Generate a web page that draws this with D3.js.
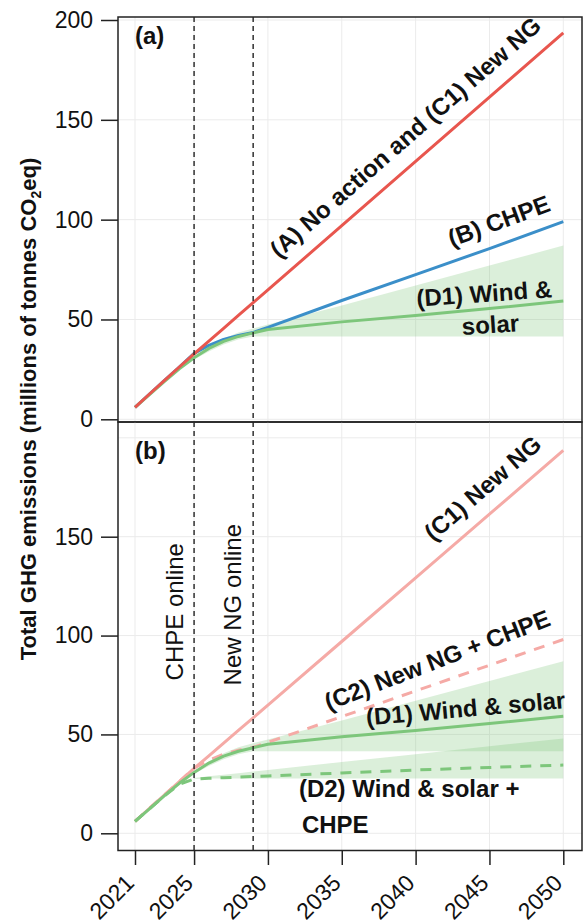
<!DOCTYPE html>
<html>
<head>
<meta charset="utf-8">
<script src="https://cdn.jsdelivr.net/npm/d3@7"></script>
<style>
  html, body { margin: 0; padding: 0; background: #fff; }
  svg { display: block; }
  text { font-family: "Liberation Sans", Arial, Helvetica, sans-serif; fill: #111; }
</style>
</head>
<body>
<svg id="chart" width="584" height="921"></svg>
<script>
// ---------------- data ----------------
const years = [2021, 2022, 2023, 2024, 2025, 2026, 2027, 2028, 2029, 2030, 2035, 2040, 2045, 2050];
const noActionNewNG = [6, 12.8, 19.5, 26.2, 32.8, 39.2, 45.6, 52, 58.4, 64.8, 97, 129.2, 161.4, 193.6];
const chpe = [6, 12.8, 19.5, 26.2, 33, 37, 40, 42, 43.5, 46, 59.5, 72.5, 85.5, 99];
const windSolar = [6, 12.5, 19, 25.3, 30.8, 35.5, 39, 41.5, 43.3, 45, 48.8, 52, 55.5, 59.2];
const newNGchpe = [6, 12.8, 19.5, 26.2, 33, 37, 40, 42, 43.5, 46, 59, 72, 85, 98];
const windSolarChpe = [6, 12.5, 19, 24.8, 27.5, 27.8, 28.1, 28.4, 28.7, 29, 30.5, 32, 33.3, 34.5];

const bandYears = [2025, 2026, 2027, 2028, 2029, 2030, 2035, 2040, 2045, 2050];
const windSolarLow = [30, 34, 37.5, 40, 41.5, 41.5, 41.5, 41.5, 41.5, 41.5];
const windSolarHigh = [31.5, 36.5, 40.5, 43.5, 45.5, 47.5, 57, 67, 77, 87];
const windSolarChpeLow = [27.5, 27.7, 27.7, 27.7, 27.7, 27.7, 27.7, 27.7, 27.7, 27.7];
const windSolarChpeHigh = [28, 28.8, 29.6, 30.4, 31.2, 32, 36, 40, 44, 48];

const xTicks = [2021, 2025, 2030, 2035, 2040, 2045, 2050];
const yTicksTop = [0, 50, 100, 150, 200];
const yTicksBottom = [0, 50, 100, 150];
const gridYTop = [0, 50, 100, 150, 200];
const gridYBottom = [0, 50, 100, 150, 200];
const eventYears = [2025, 2029];

const yTitle = "Total GHG emissions (millions of tonnes CO";

// ---------------- layout ----------------
const svg = d3.select("#chart");
const frameL = 118, frameR = 582;
const topFrame = { y0: 17, y1: 422 };
const botFrame = { y0: 422, y1: 850.5 };

const x = d3.scaleLinear().domain([2021, 2050]).range([135, 563.3]);
const yTop = d3.scaleLinear().domain([0, 200]).range([419.3, 20]);
const yBot = d3.scaleLinear().domain([0, 150]).range([833.3, 536.7]);

const colRed = "#e8564e", colBlue = "#3b8fc9", colGreen = "#7dc67b",
      colPink = "#f5aaa6", colBand = "rgba(125,198,123,0.28)";

function seriesPts(vals) { return years.map((yr, i) => [yr, vals[i]]); }
function bandPts(lo, hi) { return bandYears.map((yr, i) => ({ yr, lo: lo[i], hi: hi[i] })); }

function drawPanel(g, y, frame, gridY) {
  // clip
  const id = "clip" + Math.round(frame.y0);
  svg.append("clipPath").attr("id", id).append("rect")
    .attr("x", frameL).attr("y", frame.y0).attr("width", frameR - frameL).attr("height", frame.y1 - frame.y0);
  const inner = g.append("g").attr("clip-path", `url(#${id})`);
  // grid
  inner.selectAll(".gx").data(xTicks).join("line")
    .attr("x1", d => x(d)).attr("x2", d => x(d)).attr("y1", frame.y0).attr("y2", frame.y1)
    .attr("stroke", "#ebebeb").attr("stroke-width", 1);
  inner.selectAll(".gy").data(gridY).join("line")
    .attr("x1", frameL).attr("x2", frameR).attr("y1", d => y(d)).attr("y2", d => y(d))
    .attr("stroke", "#ebebeb").attr("stroke-width", 1);
  return inner;
}

function band(inner, y, lo, hi) {
  const area = d3.area().x(d => x(d.yr)).y0(d => y(d.lo)).y1(d => y(d.hi));
  inner.append("path").attr("d", area(bandPts(lo, hi))).attr("fill", colBand).attr("stroke", "none");
}
function line(inner, y, vals, color, width, dash) {
  const ln = d3.line().x(d => x(d[0])).y(d => y(d[1]));
  const p = inner.append("path").attr("d", ln(seriesPts(vals))).attr("fill", "none")
    .attr("stroke", color).attr("stroke-width", width).attr("stroke-linejoin", "round");
  if (dash) p.attr("stroke-dasharray", dash);
}
function events(inner, frame) {
  inner.selectAll(".ev").data(eventYears).join("line")
    .attr("x1", d => x(d)).attr("x2", d => x(d)).attr("y1", frame.y0).attr("y2", frame.y1)
    .attr("stroke", "#222").attr("stroke-width", 1.4).attr("stroke-dasharray", "5,4");
}
function frameRect(g, frame) {
  g.append("rect").attr("x", frameL).attr("y", frame.y0).attr("width", frameR - frameL)
    .attr("height", frame.y1 - frame.y0).attr("fill", "none").attr("stroke", "#222").attr("stroke-width", 1.5);
}
function yAxis(g, y, ticks) {
  const ax = g.append("g").attr("transform", `translate(${frameL},0)`)
    .call(d3.axisLeft(y).tickValues(ticks).tickSize(17).tickPadding(8).tickFormat(d3.format("d")));
  ax.select(".domain").remove();
  ax.selectAll("line").attr("stroke", "#222").attr("stroke-width", 1.5);
  ax.selectAll("text").attr("font-size", 23).attr("fill", "#111")
    .attr("font-family", '"Liberation Sans", Arial, sans-serif');
}
function label(g, y, L) {
  const t = g.append("text")
    .attr("transform", `translate(${x(L.year)},${y(L.value)}) rotate(${L.angle})`)
    .attr("text-anchor", L.anchor).attr("font-size", L.size || 24)
    .attr("font-weight", L.bold === false ? "normal" : "bold").text(L.text);
}

// ---------- top panel ----------
const gTop = svg.append("g");
const inTop = drawPanel(gTop, yTop, topFrame, gridYTop);
band(inTop, yTop, windSolarLow, windSolarHigh);
line(inTop, yTop, chpe, colBlue, 3);
line(inTop, yTop, windSolar, colGreen, 3);
line(inTop, yTop, noActionNewNG, colRed, 3);
events(gTop, topFrame);
frameRect(gTop, topFrame);
yAxis(gTop, yTop, yTicksTop);

const labelsTop = [
  { text: "(a)", year: 2021, value: 188, angle: 0, anchor: "start" },
  { text: "(A) No action and (C1) New NG", year: 2030.75, value: 80.3, angle: -41.2, anchor: "start" },
  { text: "(B) CHPE", year: 2042.44, value: 86.3, angle: -20, anchor: "start" },
  { text: "(D1) Wind &", year: 2044.68, value: 58.8, angle: -4, anchor: "middle" },
  { text: "solar", year: 2045.1, value: 43.2, angle: -4, anchor: "middle" }
];
labelsTop.forEach(L => label(gTop, yTop, L));

// ---------- bottom panel ----------
const gBot = svg.append("g");
const inBot = drawPanel(gBot, yBot, botFrame, gridYBottom);
band(inBot, yBot, windSolarLow, windSolarHigh);
band(inBot, yBot, windSolarChpeLow, windSolarChpeHigh);
line(inBot, yBot, noActionNewNG, colPink, 3);
line(inBot, yBot, newNGchpe, colPink, 3, "11,9");
line(inBot, yBot, windSolarChpe, colGreen, 3, "11,9");
line(inBot, yBot, windSolar, colGreen, 3);
events(gBot, botFrame);
frameRect(gBot, botFrame);
yAxis(gBot, yBot, yTicksBottom);

const labelsBot = [
  { text: "(b)", year: 2021, value: 189.5, angle: 0, anchor: "start" },
  { text: "(C1) New NG", year: 2041.2, value: 147.3, angle: -41, anchor: "start" },
  { text: "(C2) New NG + CHPE", year: 2034.1, value: 62.0, angle: -21, anchor: "start" },
  { text: "(D1) Wind & solar", year: 2036.7, value: 54.5, angle: -5, anchor: "start" },
  { text: "(D2) Wind & solar +", year: 2032.1, value: 18.5, angle: 0, anchor: "start" },
  { text: "CHPE", year: 2032.3, value: 0.15, angle: 0, anchor: "start" },
  { text: "CHPE online", year: 2024.28, value: 77.3, angle: -90, anchor: "start", bold: false },
  { text: "New NG online", year: 2028.21, value: 74.8, angle: -90, anchor: "start", bold: false }
];
labelsBot.forEach(L => label(gBot, yBot, L));

// ---------- x axis ----------
const axX = svg.append("g").attr("transform", `translate(0,${botFrame.y1})`)
  .call(d3.axisBottom(x).tickValues(xTicks).tickSize(14.5).tickFormat(d3.format("d")));
axX.select(".domain").remove();
axX.selectAll("line").attr("stroke", "#222").attr("stroke-width", 1.5);
axX.selectAll("text")
  .attr("font-size", 23).attr("fill", "#111").attr("font-family", '"Liberation Sans", Arial, sans-serif')
  .attr("text-anchor", "end").attr("dy", null).attr("y", null)
  .attr("transform", "translate(0,34) rotate(-45)");

// ---------- y title ----------
const yt = svg.append("text")
  .attr("transform", "translate(36,409) rotate(-90)")
  .attr("text-anchor", "middle").attr("font-size", 22).attr("font-weight", "bold");
yt.append("tspan").text(yTitle);
yt.append("tspan").attr("font-size", 14).attr("dy", 5).text("2");
yt.append("tspan").attr("dy", -5).text("eq)");
</script>
</body>
</html>
